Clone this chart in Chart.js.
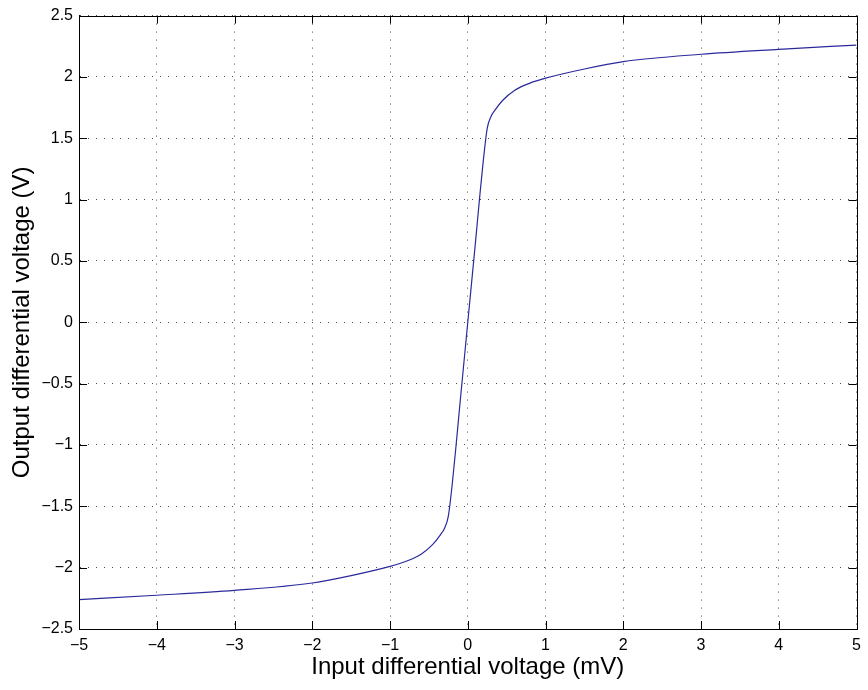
<!DOCTYPE html>
<html>
<head>
<meta charset="utf-8">
<script src="https://cdn.jsdelivr.net/npm/chart.js@4/dist/chart.umd.min.js"></script>
<style>
  html, body { margin: 0; padding: 0; background: #fff; }
  #wrap { width: 868px; height: 690px; }
</style>
</head>
<body>
<div id="wrap"><canvas id="chart"></canvas></div>
<script>
// Transfer curve
const inputMv = [-5, -4, -3, -2, -1.5, -1, -0.8, -0.6, -0.45, -0.35, -0.3, -0.25, -0.2, -0.15, -0.1, 0,
                 0.1, 0.15, 0.2, 0.25, 0.3, 0.35, 0.45, 0.6, 0.8, 1, 1.5, 2, 3, 4, 5];
const outputV = [-2.26, -2.225, -2.185, -2.125, -2.065, -1.99, -1.95, -1.89, -1.81, -1.73, -1.68, -1.58, -1.32, -1.0, -0.66, 0,
                 0.66, 1.0, 1.32, 1.58, 1.68, 1.73, 1.81, 1.89, 1.95, 1.99, 2.065, 2.125, 2.185, 2.225, 2.26];

const xTicks = [-5, -4, -3, -2, -1, 0, 1, 2, 3, 4, 5];
const yTicks = [-2.5, -2, -1.5, -1, -0.5, 0, 0.5, 1, 1.5, 2, 2.5];

const points = inputMv.map((x, i) => ({ x: x, y: outputV[i] }));

function fmt(v) {
    return String(v).replace('-', '\u2212');
}

// Matlab style: box round the axes, ticks pointing inwards
const boxTicks = {
    id: 'boxTicks',
    afterDatasetsDraw(chart) {
        const { ctx, chartArea: a, scales } = chart;
        ctx.save();
        ctx.strokeStyle = '#000';
        ctx.lineWidth = 1;
        ctx.beginPath();
        xTicks.forEach(v => {
            const px = Math.round(scales.x.getPixelForValue(v)) + 0.5;
            ctx.moveTo(px, a.bottom); ctx.lineTo(px, a.bottom - 8);
            ctx.moveTo(px, a.top); ctx.lineTo(px, a.top + 8);
        });
        yTicks.forEach(v => {
            const py = Math.round(scales.y.getPixelForValue(v)) + 0.5;
            ctx.moveTo(a.left, py); ctx.lineTo(a.left + 8, py);
            ctx.moveTo(a.right, py); ctx.lineTo(a.right - 8, py);
        });
        ctx.stroke();
        ctx.strokeRect(Math.round(a.left) + 0.5, Math.round(a.top) + 0.5,
                       Math.round(a.right - a.left), Math.round(a.bottom - a.top));
        ctx.restore();
    }
};

const font = 'Liberation Sans, Arial, sans-serif';

new Chart(document.getElementById('chart'), {
    type: 'scatter',
    data: {
        datasets: [{
            data: points,
            showLine: true,
            borderColor: '#2a2a9c',
            borderWidth: 1.2,
            pointRadius: 0,
            cubicInterpolationMode: 'monotone'
        }]
    },
    plugins: [boxTicks],
    options: {
        responsive: true,
        maintainAspectRatio: false,
        animation: false,
        layout: { padding: { top: 14, right: 5, left: 0, bottom: 0 } },
        plugins: { legend: { display: false }, tooltip: { enabled: false } },
        scales: {
            x: {
                type: 'linear',
                min: -5, max: 5,
                afterBuildTicks: s => { s.ticks = xTicks.map(v => ({ value: v })); },
                afterFit: s => { s.height = 61; },
                grid: { color: 'rgba(0,0,0,0.7)', drawTicks: false, lineWidth: 1 },
                border: { display: true, color: '#000', dash: [1, 7] },
                ticks: {
                    color: '#000', padding: 7,
                    font: { family: font, size: 16 },
                    maxRotation: 0,
                    callback: v => fmt(v)
                },
                title: {
                    display: true, text: 'Input differential voltage (mV)', color: '#000',
                    font: { family: font, size: 24 },
                    padding: { top: 0, bottom: 8 }
                }
            },
            y: {
                type: 'linear',
                min: -2.5, max: 2.5,
                afterBuildTicks: s => { s.ticks = yTicks.map(v => ({ value: v })); },
                afterFit: s => { s.width = 79; },
                grid: { color: 'rgba(0,0,0,0.7)', drawTicks: false, lineWidth: 1 },
                border: { display: true, color: '#000', dash: [1, 7] },
                ticks: {
                    color: '#000', padding: 6,
                    font: { family: font, size: 16 },
                    callback: v => fmt(v)
                },
                title: {
                    display: true, text: 'Output differential voltage (V)', color: '#000',
                    font: { family: font, size: 24 },
                    padding: { top: 8, bottom: 0 }
                }
            }
        }
    }
});
</script>
</body>
</html>
